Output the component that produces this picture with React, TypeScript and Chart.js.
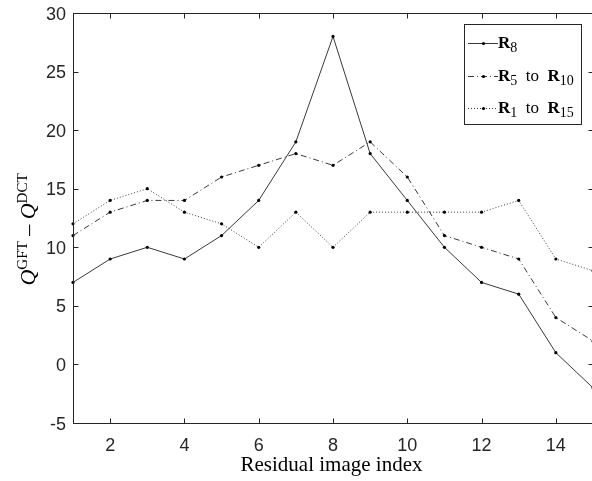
import React, { useEffect, useRef } from 'react';
import { Chart, registerables } from 'chart.js';

Chart.register(...registerables);

const indices = [1, 2, 3, 4, 5, 6, 7, 8, 9, 10, 11, 12, 13, 14, 15];
const r8 = [7, 9, 10, 9, 11, 14, 19, 28, 18, 14, 10, 7, 6, 1, -2];
const r5to10 = [11, 13, 14, 14, 16, 17, 18, 17, 19, 16, 11, 10, 9, 4, 2];
const r1to15 = [12, 14, 15, 13, 12, 10, 13, 10, 13, 13, 13, 13, 14, 9, 8];
const xTickValues = [2, 4, 6, 8, 10, 12, 14];
const yTickValues = [-5, 0, 5, 10, 15, 20, 25, 30];
const xTitle = 'Residual image index';
const legendLabels = [
  [['R', 'b'], ['8', 's']],
  [['R', 'b'], ['5', 's'], ['  to  ', 'n'], ['R', 'b'], ['10', 's']],
  [['R', 'b'], ['1', 's'], ['  to  ', 'n'], ['R', 'b'], ['15', 's']],
];
const yTitleRuns = [
  ['Q', 'i'], ['GFT', 'p'], [' \u2013 ', 'n'], ['Q', 'i'], ['DCT', 'p'],
];

const SERIF = '"Liberation Serif", "Times New Roman", serif';
const SANS = '"Liberation Sans", Arial, sans-serif';
const AXIS = '#262626';
const LINE = '#3a3a3a';
const dashes = [[], [6, 3, 1, 3], [1, 2]];

function runFont(kind: string, base: number, small: number, shift: number) {
  switch (kind) {
    case 'b': return { font: `bold ${base}px ${SERIF}`, dy: 0 };
    case 's': return { font: `${small}px ${SERIF}`, dy: shift };
    case 'p': return { font: `${small}px ${SERIF}`, dy: -shift };
    case 'i': return { font: `italic ${base}px ${SERIF}`, dy: 0 };
    default: return { font: `${base}px ${SERIF}`, dy: 0 };
  }
}

function drawRuns(ctx: CanvasRenderingContext2D, runs: any[], x: number, y: number, base: number, small: number, shift: number, align: 'left' | 'center') {
  let total = 0;
  const parts = runs.map(([t, k]) => {
    const f = runFont(k, base, small, shift);
    ctx.font = f.font;
    const w = ctx.measureText(t).width;
    total += w;
    return { t, f, w };
  });
  let cx = align === 'center' ? x - total / 2 : x;
  ctx.textAlign = 'left';
  ctx.textBaseline = 'alphabetic';
  for (const p of parts) {
    ctx.font = p.f.font;
    ctx.fillText(p.t, cx, y + p.f.dy);
    cx += p.w;
  }
}

const framePlugin = {
  id: 'matlabFrame',
  afterDraw(chart: any) {
    const ctx: CanvasRenderingContext2D = chart.ctx;
    const { left, right, top, bottom } = chart.chartArea;
    const xs = chart.scales.x;
    const ys = chart.scales.y;
    ctx.save();
    ctx.strokeStyle = AXIS;
    ctx.lineWidth = 1;
    ctx.setLineDash([]);
    const L = Math.round(left) + 0.5;
    const R = Math.round(right) + 0.5;
    const T = Math.round(top) + 0.5;
    const B = Math.round(bottom) + 0.5;
    ctx.strokeRect(L, T, R - L, B - T);
    ctx.beginPath();
    for (const v of xTickValues) {
      const px = Math.round(xs.getPixelForValue(v)) + 0.5;
      ctx.moveTo(px, B); ctx.lineTo(px, B - 5);
      ctx.moveTo(px, T); ctx.lineTo(px, T + 5);
    }
    for (const v of yTickValues) {
      const py = Math.round(ys.getPixelForValue(v)) + 0.5;
      ctx.moveTo(L, py); ctx.lineTo(L + 5, py);
      ctx.moveTo(R, py); ctx.lineTo(R - 5, py);
    }
    ctx.stroke();

    // tick labels
    ctx.fillStyle = AXIS;
    ctx.font = `18px ${SANS}`;
    ctx.textAlign = 'center';
    ctx.textBaseline = 'alphabetic';
    for (const v of xTickValues) {
      ctx.fillText(String(v), xs.getPixelForValue(v), bottom + 28);
    }
    ctx.textAlign = 'right';
    for (const v of yTickValues) {
      ctx.fillText(String(v), left - 7, ys.getPixelForValue(v) + 6.5);
    }

    // x title
    ctx.fillStyle = '#000';
    ctx.font = `21px ${SERIF}`;
    ctx.textAlign = 'center';
    ctx.textBaseline = 'alphabetic';
    ctx.fillText(xTitle, 331.5, bottom + 48);

    // y title
    ctx.save();
    ctx.translate(35, 229.5);
    ctx.rotate(-Math.PI / 2);
    drawRuns(ctx, yTitleRuns, 0, 0, 22, 15, 8, 'center');
    ctx.restore();

    // legend
    const bx = 464.5, by = 24.5, bw = 117, bh = 100;
    ctx.fillStyle = '#fff';
    ctx.fillRect(bx, by, bw, bh);
    ctx.strokeStyle = AXIS;
    ctx.strokeRect(bx, by, bw, bh);
    const rowsY = [43, 76, 108];
    const baseY = [48, 81, 113];
    legendLabels.forEach((runs, i) => {
      const ly = rowsY[i] + 0.5;
      ctx.strokeStyle = LINE;
      ctx.lineWidth = 1;
      ctx.setLineDash(dashes[i]);
      ctx.beginPath();
      ctx.moveTo(468, ly);
      ctx.lineTo(498, ly);
      ctx.stroke();
      ctx.setLineDash([]);
      ctx.fillStyle = '#000';
      ctx.beginPath();
      ctx.arc(483.5, ly, 1.6, 0, Math.PI * 2);
      ctx.fill();
      drawRuns(ctx, runs, 498, baseY[i], 17, 14, 4, 'left');
    });
    ctx.restore();
  },
};

export default function App() {
  const ref = useRef<HTMLCanvasElement>(null);
  useEffect(() => {
    document.body.style.margin = '0';
    document.body.style.overflow = 'hidden';
    const seriesList = [r8, r5to10, r1to15];
    const chart = new Chart(ref.current as HTMLCanvasElement, {
      type: 'line',
      data: {
        datasets: seriesList.map((s, i) => ({
          label: ['R8', 'R5 to R10', 'R1 to R15'][i],
          data: indices.map((x, j) => ({ x, y: s[j] })),
          borderColor: LINE,
          borderWidth: 1,
          borderDash: dashes[i],
          pointRadius: 1.6,
          pointBackgroundColor: '#000',
          pointBorderWidth: 0,
          pointHoverRadius: 1.6,
          tension: 0,
          fill: false,
          clip: false,
        })),
      },
      options: {
        responsive: false,
        animation: false,
        devicePixelRatio: 1,
        layout: { padding: { left: 73, top: 13, right: 3, bottom: 58 } },
        plugins: { legend: { display: false }, tooltip: { enabled: false }, title: { display: false } },
        events: [],
        scales: {
          x: { type: 'linear', min: 1, max: 15, display: false },
          y: { type: 'linear', min: -5, max: 30, display: false },
        },
      },
      plugins: [framePlugin],
    } as any);
    return () => chart.destroy();
  }, []);
  return (
    <div style={{ width: 596, height: 481, position: 'relative', overflow: 'hidden', background: '#fff' }}>
      <canvas ref={ref} width={596} height={481} style={{ display: 'block' }} />
    </div>
  );
}
